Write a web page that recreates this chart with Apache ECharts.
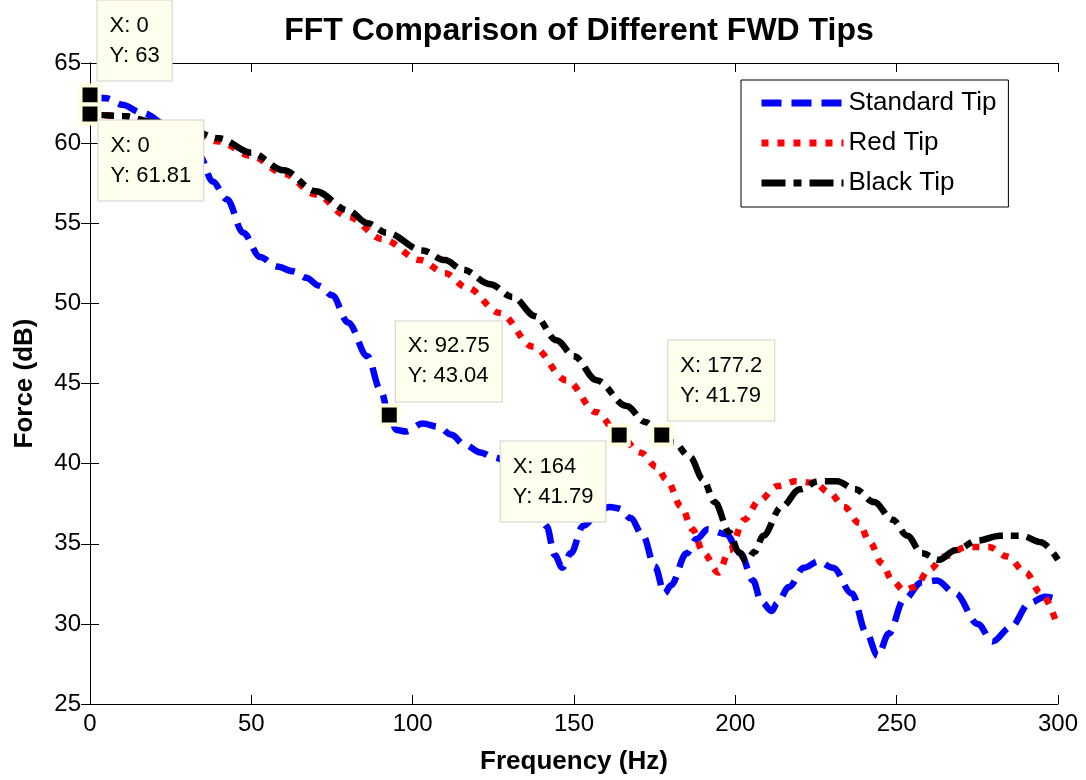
<!DOCTYPE html>
<html>
<head>
<meta charset="utf-8">
<script src="https://cdn.jsdelivr.net/npm/echarts@6/dist/echarts.min.js"></script>
<style>
  html, body { margin: 0; padding: 0; background: #fff; }
  #chart { width: 1086px; height: 780px; }
</style>
</head>
<body>
<div id="chart"></div>
<script>
// values
const blueFreq = [0, 5, 10, 16, 25, 30, 34, 38, 42.4, 47.5, 52.7, 58, 63, 67, 71, 75, 80, 86, 90, 92.75, 95, 98, 103, 108, 112, 116, 121, 125, 130, 134, 137, 141.5, 144, 146.4, 149, 152.8, 158, 161, 164, 167.5, 171.4, 175, 178.1, 180, 184.9, 188, 191.5, 197.1, 201.6, 205.5, 208, 211.3, 213, 216.6, 221.2, 225.8, 230.3, 236.1, 240.7, 244.1, 247.6, 252.2, 257.8, 262.4, 268.2, 275.1, 279.7, 285.4, 291.2, 296, 300];
const blueForce = [63, 62.8, 62.4, 61.9, 61.0, 60.2, 59.2, 57.6, 56.5, 54.4, 52.9, 52.3, 52.0, 51.6, 51.1, 50.5, 48.8, 46.7, 44.6, 43.04, 42.1, 42.0, 42.5, 42.3, 41.8, 41.2, 40.7, 40.4, 40.1, 39.6, 38.6, 36.1, 34.3, 33.5, 34.4, 36.1, 37.1, 37.3, 37.2, 36.6, 35.5, 33.6, 31.9, 32.4, 34.4, 35.3, 35.9, 35.6, 34.4, 32.7, 31.4, 30.8, 31.3, 32.3, 33.5, 33.9, 33.5, 31.9, 29.4, 28.0, 29.4, 31.5, 32.6, 32.7, 31.9, 30.0, 28.9, 29.8, 31.3, 31.7, 31.5];

const redFreq = [0, 10, 20, 30, 40, 50, 60, 70, 80, 90.8, 102.3, 110, 116.7, 127, 137.3, 147.7, 157, 164, 170.6, 175.6, 178.7, 183.3, 186.7, 190.2, 194.8, 198.2, 202.8, 207.4, 213.1, 218.8, 224.5, 229.1, 233.8, 238.3, 241.7, 245.3, 248.7, 252.2, 255.6, 260.2, 264.8, 271.7, 278.6, 284.3, 290, 294.7, 300];
const redForce = [61.81, 61.7, 61.3, 60.8, 60.1, 59.2, 58.1, 56.8, 55.4, 54.0, 52.7, 51.9, 51.0, 49.4, 47.3, 45.2, 43.2, 41.79, 40.7, 39.8, 39.0, 37.3, 35.9, 34.4, 33.2, 34.6, 36.5, 37.7, 38.6, 38.9, 38.8, 38.2, 37.3, 36.3, 35.1, 33.8, 32.7, 32.1, 32.3, 33.4, 34.2, 34.8, 34.8, 34.2, 33.2, 31.9, 29.8];

const blackFreq = [0, 10, 20, 30, 40, 50, 60, 70, 80, 86, 92, 103, 110, 115.6, 124, 131, 138, 144.6, 150, 157, 166.3, 172, 177.2, 181, 186, 190, 193.6, 198.2, 201, 203.4, 206, 208.6, 214.3, 220, 225.8, 231.5, 237.2, 243, 248.7, 253.3, 257.8, 263.1, 268.2, 275.1, 282, 288.8, 294.6, 300];
const blackForce = [61.81, 61.7, 61.3, 60.9, 60.3, 59.4, 58.3, 57.0, 55.8, 55.0, 54.4, 53.3, 52.7, 52.1, 51.2, 50.4, 49.2, 47.7, 46.7, 45.2, 43.6, 42.6, 41.79, 41.3, 40.4, 39.0, 37.6, 35.7, 34.5, 33.9, 34.5, 35.5, 37.3, 38.4, 38.9, 38.9, 38.4, 37.6, 36.5, 35.5, 34.4, 34.0, 34.6, 35.2, 35.5, 35.5, 35.1, 34.0];

const tipFreq = [0, 0, 92.75, 164, 177.2];
const tipForce = [63, 61.81, 43.04, 41.79, 41.79];

// where each data tip box sits relative to its marker
const tipLayout = [
  { position: [19, -3], verticalAlign: 'bottom' },
  { position: [20, 18], verticalAlign: 'top' },
  { position: [18, -2], verticalAlign: 'bottom' },
  { position: [-107, 18], verticalAlign: 'top' },
  { position: [18, -3], verticalAlign: 'bottom' },
];

const font = 'Liberation Sans, Arial, Helvetica, sans-serif';
const pairs = (xs, ys) => xs.map((x, i) => [x, ys[i]]);

const lineSeries = (name, xs, ys, color, dash) => ({
  name: name,
  type: 'line',
  data: pairs(xs, ys),
  symbol: 'none',
  smooth: 0.35,
  smoothMonotone: 'x',
  color: color,
  lineStyle: { color: color, width: 6.5, type: dash, cap: 'butt' },
  z: 2,
});

const chart = echarts.init(document.getElementById('chart'));
const option = {
  animation: false,
  backgroundColor: '#fff',
  title: {
    text: 'FFT Comparison of Different FWD Tips',
    left: 574,
    textAlign: 'center',
    top: 10,
    textStyle: { fontFamily: font, fontSize: 32, fontWeight: 'bold', color: '#000' },
  },
  legend: {
    orient: 'vertical',
    left: 741,
    top: 80,
    padding: [8, 12, 9, 17],
    itemGap: 10,
    itemWidth: 82,
    itemHeight: 14,
    backgroundColor: '#fff',
    borderColor: '#000',
    borderWidth: 1,
    borderRadius: 0,
    itemStyle: { opacity: 0 },
    lineStyle: { width: 7 },
    textStyle: { fontFamily: font, fontSize: 26, color: '#000', lineHeight: 30 },
    data: ['Standard Tip', 'Red Tip', 'Black Tip'],
    z: 10,
  },
  grid: { left: 90, right: 28, top: 63, bottom: 76, containLabel: false },
  xAxis: [
    {
      type: 'value',
      min: 0,
      max: 300,
      interval: 50,
      name: 'Frequency (Hz)',
      nameLocation: 'middle',
      nameGap: 45,
      nameTextStyle: { fontFamily: font, fontSize: 26, fontWeight: 'bold', color: '#000' },
      axisLine: { show: true, lineStyle: { color: '#000', width: 1 } },
      axisTick: { show: true, inside: true, length: 9, lineStyle: { color: '#000' } },
      axisLabel: { fontFamily: font, fontSize: 24, color: '#000', margin: 8 },
      splitLine: { show: false },
    },
    {
      type: 'value',
      position: 'top',
      min: 0,
      max: 300,
      interval: 50,
      axisLine: { show: true, lineStyle: { color: '#000', width: 1 } },
      axisTick: { show: true, inside: true, length: 9, lineStyle: { color: '#000' } },
      axisLabel: { show: false },
      splitLine: { show: false },
    },
  ],
  yAxis: [
    {
      type: 'value',
      min: 25,
      max: 65,
      interval: 5,
      name: 'Force (dB)',
      nameLocation: 'middle',
      nameGap: 52,
      nameTextStyle: { fontFamily: font, fontSize: 26, fontWeight: 'bold', color: '#000' },
      axisLine: { show: true, lineStyle: { color: '#000', width: 1 } },
      axisTick: { show: true, inside: true, length: 9, lineStyle: { color: '#000' } },
      axisLabel: { fontFamily: font, fontSize: 24, color: '#000', margin: 9 },
      splitLine: { show: false },
    },
    {
      type: 'value',
      position: 'right',
      min: 25,
      max: 65,
      interval: 5,
      axisLine: { show: true, lineStyle: { color: '#000', width: 1 } },
      axisTick: { show: true, inside: true, length: 9, lineStyle: { color: '#000' } },
      axisLabel: { show: false },
      splitLine: { show: false },
    },
  ],
  series: [
    lineSeries('Standard Tip', blueFreq, blueForce, '#0000FF', [20, 10]),
    lineSeries('Red Tip', redFreq, redForce, '#FF0000', [7, 9]),
    lineSeries('Black Tip', blackFreq, blackForce, '#000000', [24, 8, 8, 8]),
    {
      name: 'tips',
      type: 'scatter',
      clip: false,
      symbol: 'rect',
      symbolSize: 19,
      itemStyle: { color: '#000', borderColor: '#FFFFE0', borderWidth: 4, opacity: 1 },
      z: 5,
      data: tipFreq.map((x, i) => ({
        value: [x, tipForce[i]],
        label: Object.assign({
          show: true,
          formatter: 'X: ' + x + '\nY: ' + tipForce[i],
          fontFamily: font,
          fontSize: 22,
          lineHeight: 30,
          color: '#000',
          align: 'left',
          backgroundColor: '#FFFFEE',
          borderColor: '#D0D0D0',
          borderWidth: 1,
          padding: [10, 12],
        }, tipLayout[i]),
      })),
      emphasis: { disabled: true },
    },
  ],
};
chart.setOption(option);
</script>
</body>
</html>
